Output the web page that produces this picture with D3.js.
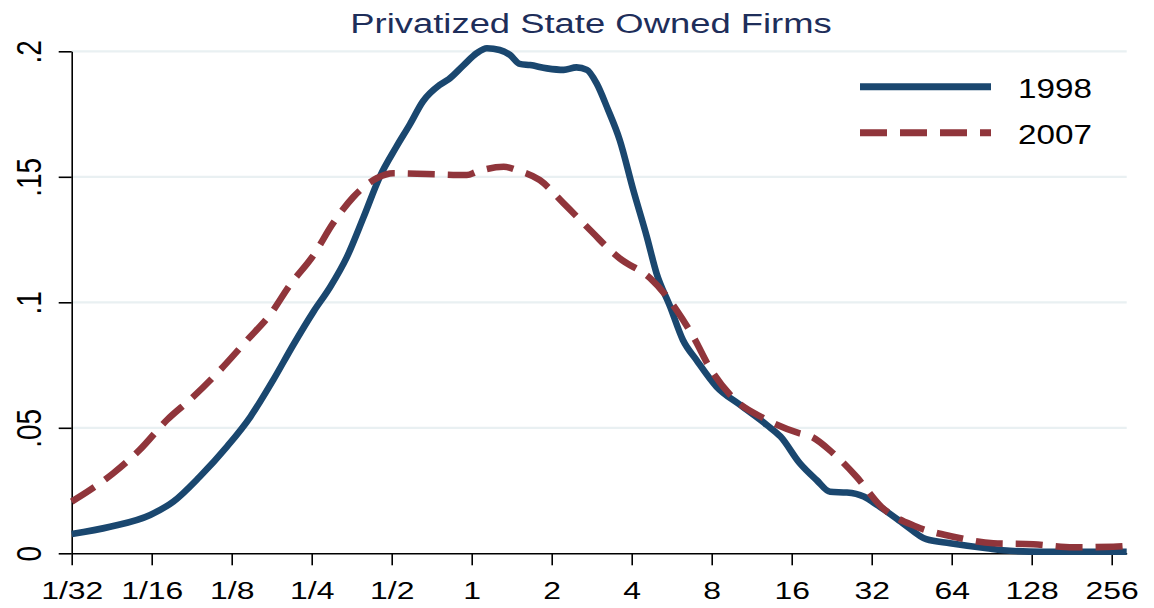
<!DOCTYPE html>
<html>
<head>
<meta charset="utf-8">
<script src="https://cdn.jsdelivr.net/npm/d3@7"></script>
<style>
  body { margin: 0; background: #fff; }
  svg { display: block; font-family: "Liberation Sans", Arial, sans-serif; }
</style>
</head>
<body>
<svg class="chart"></svg>
<script>
// firm size relative to median (log2 scale) and kernel density
const series1998 = [
  [0.03125, 0.0077], [0.0436, 0.0106], [0.0617, 0.0153], [0.0754, 0.0206], [0.0947, 0.0305],
  [0.120, 0.0425], [0.147, 0.0544], [0.179, 0.069], [0.213, 0.083], [0.254, 0.0963],
  [0.293, 0.106], [0.339, 0.118], [0.392, 0.134], [0.451, 0.150], [0.521, 0.162],
  [0.586, 0.171], [0.655, 0.180], [0.758, 0.1866], [0.818, 0.1888], [0.933, 0.1945],
  [1.043, 0.1992], [1.141, 0.2012], [1.275, 0.2005], [1.395, 0.1985], [1.516, 0.195],
  [1.659, 0.1945], [1.919, 0.1932], [2.219, 0.1926], [2.479, 0.1936], [2.713, 0.1926],
  [2.948, 0.1873], [3.25, 0.177], [3.605, 0.1647], [4.056, 0.1447], [4.563, 0.126],
  [4.959, 0.1116], [5.579, 0.0983], [6.233, 0.085], [7.013, 0.077], [8.34, 0.0664],
  [10.27, 0.059], [12.9, 0.0511], [14.52, 0.0465], [17.15, 0.0359], [19.84, 0.0292],
  [22.32, 0.0245], [25.81, 0.0242], [29.86, 0.0226], [33.8, 0.019], [41.9, 0.012],
  [51.3, 0.0056], [63.1, 0.004], [86.8, 0.002], [106, 0.001], [141, 0.0006], [291.5, 0.0006]
]

const series2007 = [
  [0.03125, 0.0206], [0.0366, 0.0252], [0.0448, 0.0319], [0.0563, 0.0412], [0.0713, 0.0531],
  [0.0897, 0.0624], [0.113, 0.073], [0.143, 0.085], [0.174, 0.095], [0.207, 0.1069],
  [0.254, 0.1188], [0.301, 0.1315], [0.359, 0.142], [0.439, 0.1494], [0.507, 0.1514],
  [0.678, 0.1511], [0.959, 0.1507], [1.043, 0.152], [1.320, 0.154], [1.474, 0.1527],
  [1.803, 0.1487], [2.219, 0.1394], [2.868, 0.1275], [3.317, 0.1208], [3.605, 0.1175],
  [4.69, 0.1096], [5.43, 0.1022], [5.90, 0.0969], [6.82, 0.0863], [7.89, 0.0737],
  [9.65, 0.0618], [12.55, 0.0538], [17.15, 0.0478], [18.77, 0.0467], [22.94, 0.0398],
  [28.05, 0.0305], [34.8, 0.0185], [47.2, 0.0106], [64.9, 0.0066], [91.8, 0.004],
  [129.8, 0.0036], [183.5, 0.0024], [259.5, 0.0026], [291.5, 0.0029]
]

const xTickValues = [1/32, 1/16, 1/8, 1/4, 1/2, 1, 2, 4, 8, 16, 32, 64, 128, 256]
const xTickLabels = ['1/32', '1/16', '1/8', '1/4', '1/2', '1', '2', '4', '8', '16', '32', '64', '128', '256']
const yTickValues = [0, 0.05, 0.1, 0.15, 0.2]
const yTickLabels = ['0', '.05', '.1', '.15', '.2']
const seriesNames = ['1998', '2007']
const xDomain = [1/32, 291.5]
const yDomain = [0, 0.2]

const WIDTH = 1154
const HEIGHT = 608
const BLUE = '#1a476f'
const RED = '#90353b'
const DASH = '27,13'

const svg = d3.select('svg.chart')
  .attr('width', WIDTH)
  .attr('height', HEIGHT)

// plot box in pixels
const plotLeft = 71.7, plotRight = 1126.7, plotTop = 51.3, plotBottom = 553.3

const xScale = d3.scaleLog().base(2)
  .domain(xDomain)
  .range([plotLeft, plotRight])

const yScale = d3.scaleLinear()
  .domain(yDomain)
  .range([plotBottom, plotTop])

// GRIDLINES
svg.append('g')
  .selectAll('line')
  .data(yTickValues.filter(d => d > 0))
  .join('line')
  .attr('x1', plotLeft)
  .attr('x2', plotRight)
  .attr('y1', d => yScale(d))
  .attr('y2', d => yScale(d))
  .style('stroke', '#e9f0f2')
  .style('stroke-width', 2.3)

// AXES
const xAxis = svg.append('g')
  .attr('transform', 'translate(0,' + plotBottom + ')')
  .call(d3.axisBottom(xScale)
    .tickValues(xTickValues)
    .tickFormat((d, i) => xTickLabels[i])
    .tickSize(12)
    .tickSizeOuter(0))

xAxis.select('.domain').attr('stroke-width', 1.6)
xAxis.selectAll('.tick line').attr('stroke-width', 1.6)
xAxis.selectAll('.tick text')
  .attr('y', 46)
  .attr('dy', 0)
  .attr('transform', 'scale(1.33,1)')
  .style('font-size', '24px')
  .style('font-family', '"Liberation Sans", Arial, sans-serif')
  .style('fill', '#000')

const yAxis = svg.append('g')
  .attr('transform', 'translate(' + plotLeft + ',0)')
  .call(d3.axisLeft(yScale)
    .tickValues(yTickValues)
    .tickFormat((d, i) => yTickLabels[i])
    .tickSize(13)
    .tickSizeOuter(0))

yAxis.select('.domain').attr('stroke-width', 1.6)
yAxis.selectAll('.tick line').attr('stroke-width', 1.6)
yAxis.selectAll('.tick text')
  .attr('x', 0)
  .attr('y', 0)
  .attr('dy', 0)
  .attr('text-anchor', 'middle')
  .attr('transform', 'translate(-31,0) scale(1.25,1) rotate(-90)')
  .style('font-size', '28px')
  .style('font-family', '"Liberation Sans", Arial, sans-serif')
  .style('fill', '#000')

// CURVES
const lineGen = d3.line()
  .x(d => xScale(d[0]))
  .y(d => yScale(d[1]))
  .curve(d3.curveMonotoneX)

svg.append('path')
  .datum(series1998)
  .attr('d', lineGen)
  .style('fill', 'none')
  .style('stroke', BLUE)
  .style('stroke-width', 6.6)
  .style('stroke-linejoin', 'round')

svg.append('path')
  .datum(series2007)
  .attr('d', lineGen)
  .style('fill', 'none')
  .style('stroke', RED)
  .style('stroke-width', 6.6)
  .style('stroke-dasharray', DASH)

// TITLE
svg.append('text')
  .attr('transform', 'translate(591,33) scale(1.3,1)')
  .attr('text-anchor', 'middle')
  .style('font-size', '28px')
  .style('fill', '#1e2e5a')
  .text('Privatized State Owned Firms')

// LEGEND
const legend = svg.append('g')
  .selectAll('g')
  .data(seriesNames)
  .join('g')
  .attr('transform', (d, i) => 'translate(860,' + (86.7 + i * 46) + ')')

legend.append('line')
  .attr('x1', 0)
  .attr('x2', 131)
  .style('stroke', (d, i) => i === 0 ? BLUE : RED)
  .style('stroke-width', 7)
  .style('stroke-dasharray', (d, i) => i === 0 ? null : DASH)

legend.append('text')
  .attr('transform', 'translate(158,11) scale(1.23,1)')
  .style('font-size', '27px')
  .style('fill', '#000')
  .text(d => d)
</script>
</body>
</html>
